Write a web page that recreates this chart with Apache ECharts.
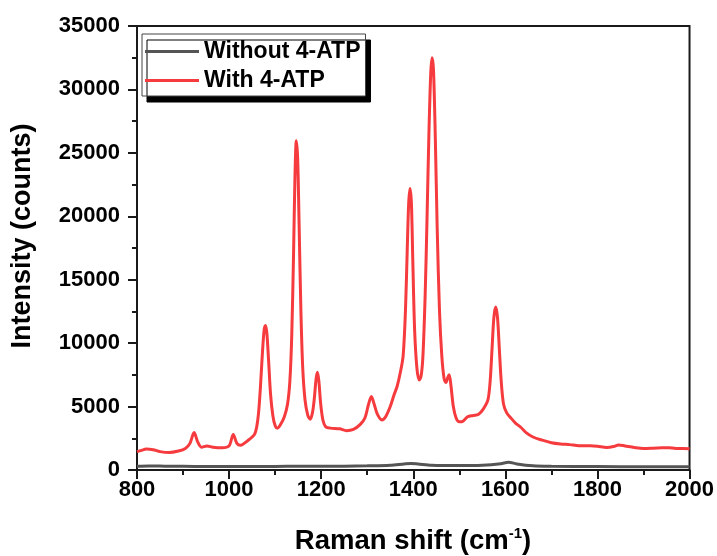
<!DOCTYPE html>
<html>
<head>
<meta charset="utf-8">
<script src="https://cdn.jsdelivr.net/npm/echarts@6/dist/echarts.min.js"></script>
<style>
html,body{margin:0;padding:0;background:#fff;}
#c{width:717px;height:556px;}
</style>
</head>
<body>
<div id="c"></div>
<script>
// Raman shift (cm-1) and intensity (counts)
var withShift = [800,810,820,835,850,870,890,905,915,924,932,940,952,965,985,1000,1009,1017,1025,1040,1055,1060,1064,1068,1072,1076,1079,1082,1086,1090,1095,1100,1105,1112,1120,1127,1132,1136,1140,1143,1146,1149,1152,1156,1160,1165,1171,1176,1181,1185,1189,1192,1195,1199,1204,1210,1220,1240,1255,1270,1285,1295,1303,1309,1315,1322,1332,1340,1350,1358,1365,1372,1378,1383,1387,1390,1393,1396,1399,1403,1408,1413,1417,1421,1426,1430,1434,1438,1441,1444,1448,1452,1457,1462,1467,1471,1475,1478,1482,1487,1493,1500,1508,1518,1530,1542,1552,1562,1567,1571,1575,1579,1583,1587,1591,1596,1603,1612,1622,1634,1645,1660,1680,1700,1720,1740,1760,1785,1800,1820,1835,1846,1860,1880,1900,1920,1940,1955,1970,1985,2000];
var withATP = [1450,1550,1650,1600,1450,1380,1500,1700,2100,2950,2200,1800,1900,1800,1750,1900,2800,2100,1950,2300,2800,3400,4500,6500,9000,11000,11400,10800,8500,6000,4300,3500,3300,3600,4200,5200,7000,10500,17000,23000,25950,24500,19500,12500,8000,5500,4300,4000,4500,5600,7200,7700,7000,5200,3900,3400,3300,3250,3100,3200,3600,4100,5200,5800,5200,4400,3950,4200,5000,5900,6600,7700,9000,12500,17500,21000,22200,21000,16500,11000,8000,7100,7400,9000,14000,20000,26500,31300,32500,31500,26000,19000,12500,9000,7200,6900,7300,7500,6600,5000,4100,3800,3850,4200,4300,4400,4800,5500,7000,9500,12000,12850,12000,9500,7000,5200,4500,4100,3700,3350,2950,2600,2350,2150,2050,2000,1920,1920,1880,1780,1850,1980,1900,1780,1700,1720,1750,1760,1700,1700,1680];
var withoutShift = [800,825,850,875,900,950,1000,1050,1100,1150,1200,1250,1300,1350,1380,1395,1410,1440,1500,1550,1590,1607,1625,1660,1700,1800,1900,2000];
var withoutATP = [300,320,310,290,290,280,280,270,280,290,290,300,330,380,480,520,480,380,350,380,500,620,480,330,290,270,260,250];
var xTicks = {min: 800, max: 2000, step: 200};
var yTicks = {min: 0, max: 35000, step: 5000};
var seriesNames = ['Without 4-ATP', 'With 4-ATP'];
var xTitle = ['Raman shift (cm', '-1', ')'];
var yTitle = 'Intensity (counts)';

function pairs(xs, ys){ return xs.map(function(x,i){ return [x, ys[i]]; }); }

var chart = echarts.init(document.getElementById('c'), null, {renderer:'canvas'});
var FONT = 'Arial';
var axisColor = '#1a1a1a';
chart.setOption({
  animation: false,
  backgroundColor: '#ffffff',
  grid: {left: 137, right: 27, top: 26, bottom: 86, show: true, borderColor: axisColor, borderWidth: 2, backgroundColor: 'transparent'},
  legend: {
    orient: 'vertical', left: 142, top: 34,
    padding: [6, 5, 4, 3], itemGap: 6, itemWidth: 54, itemHeight: 3,
    icon: 'rect',
    backgroundColor: '#fff', borderColor: '#444', borderWidth: 1,
    shadowColor: '#000', shadowBlur: 0, shadowOffsetX: 5, shadowOffsetY: 6,
    textStyle: {fontFamily: FONT, fontWeight: 'bold', fontSize: 23, color: '#000', lineHeight: 23},
    data: seriesNames
  },
  graphic: [
    {type: 'text', silent: true, x: 413, y: 541,
     style: {x: 0, y: 0, align: 'center', verticalAlign: 'middle',
       text: '{a|' + xTitle[0] + '}{s|' + xTitle[1] + '}{a|' + xTitle[2] + '}',
       rich: {
         a: {fontFamily: FONT, fontWeight: 'bold', fontSize: 27.5, fill: '#000', color: '#000'},
         s: {fontFamily: FONT, fontWeight: 'bold', fontSize: 15, fill: '#000', color: '#000', verticalAlign: 'top', padding: [0,0,14,0]}
       }}},
    {type: 'text', silent: true, x: 23, y: 236, rotation: Math.PI / 2,
     style: {x: 0, y: 0, text: yTitle, align: 'center', verticalAlign: 'middle',
       font: 'bold 27px Arial', fill: '#000'}}
  ],
  xAxis: {
    type: 'value', min: xTicks.min, max: xTicks.max, interval: xTicks.step,
    axisLine: {show: true, lineStyle: {color: axisColor, width: 2}},
    axisTick: {show: true, length: 9, lineStyle: {color: axisColor, width: 2}},
    minorTick: {show: true, splitNumber: 2, length: 5, lineStyle: {color: axisColor, width: 2}},
    splitLine: {show: false},
    axisLabel: {fontFamily: FONT, fontWeight: 'bold', fontSize: 22, color: '#000', margin: 9,
      formatter: function(v){ return String(v); }}
  },
  yAxis: {
    type: 'value', min: yTicks.min, max: yTicks.max, interval: yTicks.step,
    axisLine: {show: true, lineStyle: {color: axisColor, width: 2}},
    axisTick: {show: true, length: 9, lineStyle: {color: axisColor, width: 2}},
    minorTick: {show: true, splitNumber: 2, length: 5, lineStyle: {color: axisColor, width: 2}},
    splitLine: {show: false},
    axisLabel: {fontFamily: FONT, fontWeight: 'bold', fontSize: 22, color: '#000', margin: 17,
      formatter: function(v){ return String(v); }}
  },
  series: [
    {name: seriesNames[0], type: 'line', data: pairs(withoutShift, withoutATP), showSymbol: false, smooth: 0.3,
     lineStyle: {color: '#555555', width: 3}, itemStyle: {color: '#555555'}, z: 3},
    {name: seriesNames[1], type: 'line', data: pairs(withShift, withATP), showSymbol: false, smooth: 0.3,
     lineStyle: {color: '#f53b3e', width: 3}, itemStyle: {color: '#f53b3e'}, z: 2}
  ]
});
</script>
</body>
</html>
